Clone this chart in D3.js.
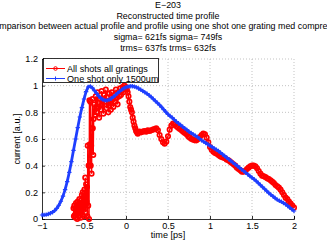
<!DOCTYPE html>
<html><head><meta charset="utf-8">
<script src="https://cdn.jsdelivr.net/npm/d3@7"></script>
<style>
html,body{margin:0;padding:0;background:#fff;}
svg{display:block;}
text{font-family:"Liberation Sans",Arial,Helvetica,sans-serif;fill:#000;}
</style></head>
<body>
<svg id="chart" width="327" height="242"></svg>
<script>
const titleLines = ["E\u2212203","Reconstructed time profile","Comparison between actual profile and profile using one shot one grating med compression","sigma= 621fs sigma= 749fs","trms= 637fs trms= 632fs"];
const xLabel = "time [ps]";
const yLabel = "current [a.u.]";
const xTicks = [-1,-0.5,0,0.5,1,1.5,2];
const xTickLabels = ["\u22121","\u22120.5","0","0.5","1","1.5","2"];
const yTicks = [0,0.2,0.4,0.6,0.8,1,1.2];
const yTickLabels = ["0","0.2","0.4","0.6","0.8","1","1.2"];
const seriesNames = ["All shots all gratings","One shot only 1500um"];

// Red series: all shots all gratings
const redT = [
-0.625,-0.62,-0.615,-0.61,-0.605,-0.60,-0.595,-0.59,-0.585,-0.58,-0.575,-0.57,-0.565,-0.56,-0.555,-0.55,-0.545,-0.54,-0.535,-0.53,-0.525,-0.52,-0.515,-0.51,-0.505,-0.50,-0.495,-0.49,-0.485,-0.48,-0.475,-0.47,-0.465,-0.46,-0.455,-0.45,-0.445,-0.44,-0.435,-0.43,-0.425,-0.42,-0.415,-0.41,-0.405,-0.40,-0.395,-0.39,-0.385,
-0.38,-0.37,-0.36,-0.35,-0.34,-0.33,-0.32,-0.31,-0.30,-0.29,-0.28,-0.27,-0.26,-0.25,-0.24,-0.23,-0.22,-0.21,-0.20,-0.19,-0.18,-0.17,-0.16,-0.15,-0.14,-0.13,-0.12,-0.11,-0.10,-0.09,-0.08,-0.07,-0.06,-0.05,-0.04,-0.03,-0.02,-0.01,0.00,0.01,0.02,0.03,0.04,0.05,0.06,0.07,0.08,0.09,0.10,0.11,0.12,0.13,0.14,
0.16,0.18,0.20,0.22,0.24,0.26,0.28,0.30,0.32,0.34,0.36,0.38,0.40,0.42,0.44,0.46,0.48,0.50,0.52,0.54,0.56,0.58,0.60,0.62,0.64,0.66,0.68,0.70,0.72,0.74,0.76,0.78,0.80,0.82,0.84,0.86,0.88,0.90,0.92,0.94,0.96,0.98,1.00,
1.02,1.04,1.06,1.08,1.10,1.12,1.14,1.16,1.18,1.20,1.22,1.24,1.26,1.28,1.30,1.32,1.34,1.36,1.38,1.40,1.42,1.44,1.46,1.48,1.50,1.52,1.54,1.56,1.58,1.60,1.62,1.64,1.66,1.68,1.70,1.72,1.74,1.76,1.78,1.80,1.82,1.84,1.86,1.88,1.90,1.92,1.94,1.96,1.98,2.00];
const redV = [
0.08,0.02,0.10,0.03,0.08,0.01,0.12,0.04,0.09,0.00,0.13,0.05,0.11,0.02,0.15,0.06,0.12,0.01,0.14,0.07,0.18,0.03,0.20,0.08,0.16,0.02,0.22,0.10,0.31,0.05,0.26,0.13,0.24,0.02,0.55,0.10,0.40,0.00,0.89,0.56,0.88,0.40,0.55,0.34,0.68,0.90,0.68,0.48,0.75,
0.86,0.78,0.92,0.80,0.95,0.84,0.76,0.90,0.82,0.96,0.86,0.79,0.93,0.88,0.97,0.83,0.91,0.80,0.94,0.87,0.82,0.95,0.90,0.84,0.93,0.88,0.97,0.91,0.86,0.95,0.92,0.98,0.93,0.96,0.99,0.95,1.00,0.98,0.99,0.97,0.95,0.92,0.88,0.84,0.82,0.80,0.76,0.73,0.70,0.68,0.66,0.65,0.64,
0.655,0.65,0.655,0.66,0.655,0.665,0.66,0.665,0.67,0.675,0.68,0.665,0.63,0.60,0.575,0.565,0.58,0.62,0.67,0.70,0.715,0.71,0.695,0.685,0.675,0.665,0.655,0.645,0.635,0.62,0.61,0.60,0.595,0.59,0.59,0.60,0.615,0.63,0.64,0.635,0.61,0.575,0.54,
0.52,0.505,0.495,0.49,0.48,0.47,0.465,0.46,0.455,0.445,0.44,0.43,0.42,0.41,0.40,0.385,0.375,0.365,0.355,0.355,0.36,0.375,0.385,0.395,0.40,0.40,0.395,0.38,0.36,0.34,0.325,0.32,0.315,0.305,0.30,0.29,0.28,0.27,0.255,0.245,0.235,0.22,0.20,0.18,0.16,0.15,0.13,0.115,0.10,0.085];

// Blue series: one shot only 1500um
const blueT = [
-1.000,-0.975,-0.950,-0.925,-0.900,-0.875,-0.850,-0.825,-0.800,-0.775,-0.750,-0.725,-0.700,-0.675,-0.650,-0.625,-0.600,-0.575,-0.550,-0.525,-0.500,-0.475,-0.450,-0.425,-0.400,-0.375,-0.350,-0.325,-0.300,-0.275,-0.250,-0.225,-0.200,-0.175,-0.150,-0.125,-0.100,-0.075,-0.050,-0.025,
0.000,0.025,0.050,0.075,0.100,0.125,0.150,0.175,0.200,0.225,0.250,0.275,0.300,0.325,0.350,0.375,0.400,0.425,0.450,0.475,0.500,0.525,0.550,0.575,0.600,0.625,0.650,0.675,0.700,0.725,0.750,0.775,0.800,0.825,0.850,0.875,0.900,0.925,0.950,0.975,
1.000,1.025,1.050,1.075,1.100,1.125,1.150,1.175,1.200,1.225,1.250,1.275,1.300,1.325,1.350,1.375,1.400,1.425,1.450,1.475,1.500,1.525,1.550,1.575,1.600,1.625,1.650,1.675,1.700,1.725,1.750,1.775,1.800,1.825,1.850,1.875,1.900,1.925,1.950,1.975,2.000];
const blueV = [
0.030,0.031,0.033,0.037,0.043,0.051,0.063,0.080,0.103,0.133,0.172,0.220,0.280,0.350,0.430,0.515,0.600,0.685,0.765,0.835,0.900,0.955,0.990,0.995,0.983,0.963,0.942,0.922,0.906,0.895,0.890,0.890,0.895,0.904,0.916,0.930,0.945,0.958,0.970,0.980,
0.988,0.993,0.996,0.996,0.993,0.987,0.979,0.970,0.960,0.950,0.940,0.928,0.915,0.900,0.885,0.870,0.855,0.838,0.820,0.802,0.785,0.772,0.760,0.745,0.730,0.718,0.705,0.692,0.680,0.668,0.655,0.645,0.635,0.625,0.615,0.603,0.590,0.580,0.570,0.560,
0.550,0.540,0.530,0.520,0.510,0.498,0.485,0.472,0.460,0.448,0.435,0.422,0.410,0.398,0.385,0.372,0.360,0.348,0.335,0.322,0.310,0.298,0.285,0.270,0.255,0.240,0.225,0.210,0.195,0.182,0.170,0.157,0.145,0.137,0.130,0.120,0.110,0.098,0.085,0.072,0.060];

const svg = d3.select("#chart");
const x = d3.scaleLinear().domain([-1,2]).range([42,294]);
const y = d3.scaleLinear().domain([0,1.2]).range([219,59]);
const FS = 9.1;
const RED = "#ff0000", BLUE = "#1f3fff";

// grid
const grid = svg.append("g");
grid.selectAll(".gx").data(xTicks.slice(1)).enter().append("line")
  .attr("x1",d=>x(d)).attr("x2",d=>x(d)).attr("y1",y(0)).attr("y2",y(1.2))
  .attr("stroke","#b4b4b4").attr("stroke-width",0.8).attr("stroke-dasharray","1,2");
grid.selectAll(".gy").data(yTicks.slice(1)).enter().append("line")
  .attr("y1",d=>y(d)).attr("y2",d=>y(d)).attr("x1",x(-1)).attr("x2",x(2))
  .attr("stroke","#b4b4b4").attr("stroke-width",0.8).attr("stroke-dasharray","1,2");

// axes
const xAxis = d3.axisBottom(x).tickValues(xTicks).tickSize(-3).tickPadding(4)
  .tickFormat((d,i)=>xTickLabels[i]);
const gx = svg.append("g").attr("transform",`translate(0,${y(0)})`).call(xAxis);
const yAxis = d3.axisLeft(y).tickValues(yTicks).tickSize(-3).tickPadding(4)
  .tickFormat((d,i)=>yTickLabels[i]);
const gy = svg.append("g").attr("transform",`translate(${x(-1)},0)`).call(yAxis);
[gx,gy].forEach(g=>{
  g.select(".domain").attr("stroke","#000").attr("stroke-width",0.8);
  g.selectAll(".tick line").attr("stroke","#000").attr("stroke-width",0.8);
  g.selectAll(".tick text").style("font-family","'Liberation Sans', Arial, sans-serif").style("font-size",FS+"px").attr("fill","#000");
});
gx.selectAll(".tick text").attr("dy","0.71em");

// series
const redData = redT.map((t,i)=>[t,redV[i]]);
const blueData = blueT.map((t,i)=>[t,blueV[i]]);
const line = d3.line().x(d=>x(d[0])).y(d=>y(d[1]));
const plot = svg.append("g");
plot.append("path").datum(redData).attr("d",line).attr("fill","none").attr("stroke",RED).attr("stroke-width",1.4);
plot.selectAll(".rm").data(redData).enter().append("circle")
  .attr("cx",d=>x(d[0])).attr("cy",d=>y(d[1])).attr("r",2.2)
  .attr("fill","none").attr("stroke",RED).attr("stroke-width",1.7);
plot.append("path").datum(blueData).attr("d",line).attr("fill","none").attr("stroke",BLUE).attr("stroke-width",2.8);
const plus = s=>`M${-s},0H${s}M0,${-s}V${s}`;
plot.selectAll(".bm").data(blueData).enter().append("path")
  .attr("transform",d=>`translate(${x(d[0])},${y(d[1])})`).attr("d",plus(2.2))
  .attr("fill","none").attr("stroke",BLUE).attr("stroke-width",1.2);

// legend
const lg = svg.append("g");
lg.append("rect").attr("x",43.5).attr("y",58.5).attr("width",115).attr("height",24)
  .attr("fill","#fff").attr("stroke","#000").attr("stroke-width",0.8);
const colors = [RED,BLUE];
seriesNames.forEach((nm,i)=>{
  const yy = 68.5 + i*10;
  lg.append("line").attr("x1",46).attr("x2",65).attr("y1",yy).attr("y2",yy).attr("stroke",colors[i]).attr("stroke-width",1);
  if(i===0) lg.append("circle").attr("cx",55.5).attr("cy",yy).attr("r",1.8).attr("fill","none").attr("stroke",colors[i]).attr("stroke-width",1);
  else lg.append("path").attr("transform",`translate(55.5,${yy})`).attr("d",plus(2)).attr("stroke",colors[i]).attr("stroke-width",1);
  lg.append("text").attr("x",67).attr("y",yy).attr("dy","0.35em").style("font-size",FS+"px").text(nm);
});

// titles
titleLines.forEach((t,i)=>{
  svg.append("text").attr("x",168).attr("y",8+i*10.7).attr("text-anchor","middle").style("font-size","8.9px").text(t);
});
svg.append("text").attr("x",168).attr("y",238).attr("text-anchor","middle").style("font-size",FS+"px").text(xLabel);
svg.append("text").attr("transform",`translate(20,139) rotate(-90)`).attr("text-anchor","middle").style("font-size",FS+"px").text(yLabel);
</script>
</body></html>
